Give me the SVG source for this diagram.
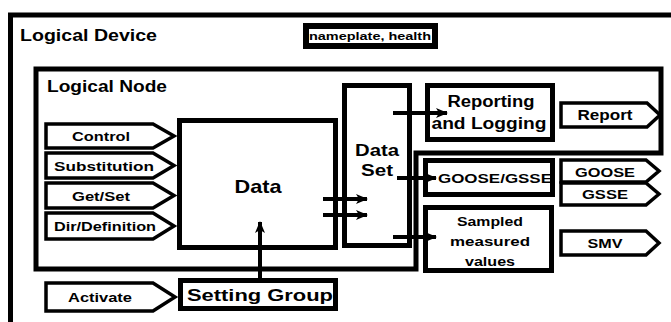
<svg xmlns="http://www.w3.org/2000/svg" width="671" height="322" viewBox="0 0 671 322">
<defs>
<style>
.box{fill:#fff;stroke:#000;stroke-width:5}
.frame{fill:none;stroke:#000;stroke-width:5}
.tag{fill:#fff;stroke:#000;stroke-width:3.5;stroke-linejoin:miter}
.t{font-family:"Liberation Sans",Arial,sans-serif;font-weight:bold;fill:#000;text-anchor:middle}
.lbl{font-family:"Liberation Sans",Arial,sans-serif;font-weight:bold;fill:#000}
.c{stroke:#000;stroke-width:4;fill:none}
</style>
<marker id="ah" viewBox="0 0 12 10" refX="11" refY="5" markerWidth="12" markerHeight="10" markerUnits="userSpaceOnUse" orient="auto">
<path d="M0,0 L12,5 L0,10 L3,5 z" fill="#000"/>
</marker>
</defs>
<rect width="671" height="322" fill="#fff"/>

<g id="logical-device">
<rect class="frame" x="10.5" y="15" width="720" height="400"/>
<text class="lbl" x="20" y="41" font-size="16" textLength="137" lengthAdjust="spacingAndGlyphs">Logical Device</text>
</g>

<g id="nameplate">
<rect x="306" y="26" width="129" height="20" fill="#fff" stroke="#000" stroke-width="6"/>
<text class="t" x="370" y="40" font-size="10" textLength="122" lengthAdjust="spacingAndGlyphs">nameplate, health</text>
</g>

<g id="logical-node">
<path class="frame" d="M36,69 H661 V153 H416 V269 H36 Z"/>
<text class="lbl" x="47" y="92" font-size="17" textLength="120" lengthAdjust="spacingAndGlyphs">Logical Node</text>
</g>

<g id="control">
<path class="tag" d="M46,124 H153 L174,136 L153,148 H46 Z"/>
<text class="t" x="101" y="141" font-size="13" textLength="58" lengthAdjust="spacingAndGlyphs">Control</text>
</g>
<g id="substitution">
<path class="tag" d="M46,153 H153 L174,165.5 L153,178 H46 Z"/>
<text class="t" x="104" y="170.5" font-size="13" textLength="100" lengthAdjust="spacingAndGlyphs">Substitution</text>
</g>
<g id="getset">
<path class="tag" d="M46,183 H153 L174,195.5 L153,208 H46 Z"/>
<text class="t" x="101" y="200.5" font-size="13" textLength="58" lengthAdjust="spacingAndGlyphs">Get/Set</text>
</g>
<g id="dirdefinition">
<path class="tag" d="M46,213 H153 L174,226 L153,239 H46 Z"/>
<text class="t" x="105" y="231" font-size="13" textLength="102" lengthAdjust="spacingAndGlyphs">Dir/Definition</text>
</g>

<g id="data">
<rect class="box" x="179.5" y="120.5" width="156" height="127"/>
<text class="t" x="258" y="193" font-size="19" textLength="47" lengthAdjust="spacingAndGlyphs">Data</text>
</g>

<g id="data-set">
<rect class="box" x="344.5" y="85.5" width="65" height="160"/>
<text class="t" x="377" y="156" font-size="17" textLength="44" lengthAdjust="spacingAndGlyphs">Data</text>
<text class="t" x="377" y="176" font-size="17" textLength="32" lengthAdjust="spacingAndGlyphs">Set</text>
</g>

<g id="reporting">
<rect class="box" x="427.5" y="85.5" width="125" height="54"/>
<text class="t" x="491" y="107" font-size="16" textLength="87" lengthAdjust="spacingAndGlyphs">Reporting</text>
<text class="t" x="489" y="129" font-size="16" textLength="115" lengthAdjust="spacingAndGlyphs">and Logging</text>
</g>

<g id="report">
<path class="tag" d="M561,103 H647 L660,115 L647,127 H561 Z"/>
<text class="t" x="605" y="120" font-size="14" textLength="55" lengthAdjust="spacingAndGlyphs">Report</text>
</g>

<g id="goose-gsse-block">
<rect class="box" x="425.5" y="160.5" width="127" height="34"/>
<text class="t" x="495" y="183" font-size="12" textLength="114" lengthAdjust="spacingAndGlyphs">GOOSE/GSSE</text>
</g>

<g id="goose">
<path class="tag" d="M561,160 H646 L659,171 L646,182 H561 Z"/>
<text class="t" x="605" y="177" font-size="12" textLength="60" lengthAdjust="spacingAndGlyphs">GOOSE</text>
</g>
<g id="gsse">
<path class="tag" d="M561,183 H646 L659,194 L646,205 H561 Z"/>
<text class="t" x="605" y="199" font-size="12" textLength="46" lengthAdjust="spacingAndGlyphs">GSSE</text>
</g>

<g id="sampled">
<rect class="box" x="425.5" y="207.5" width="126" height="63"/>
<text class="t" x="490" y="226" font-size="13" textLength="66" lengthAdjust="spacingAndGlyphs">Sampled</text>
<text class="t" x="490" y="246" font-size="13" textLength="80" lengthAdjust="spacingAndGlyphs">measured</text>
<text class="t" x="490" y="266" font-size="13" textLength="50" lengthAdjust="spacingAndGlyphs">values</text>
</g>

<g id="smv">
<path class="tag" d="M561,231 H646 L659,243 L646,255 H561 Z"/>
<text class="t" x="605" y="248" font-size="13" textLength="35" lengthAdjust="spacingAndGlyphs">SMV</text>
</g>

<g id="activate">
<path class="tag" d="M46,283 H153 L175,297 L153,311 H46 Z"/>
<text class="t" x="100" y="302" font-size="13" textLength="64" lengthAdjust="spacingAndGlyphs">Activate</text>
</g>

<g id="setting-group">
<rect class="box" x="180.5" y="280.5" width="155" height="28"/>
<text class="t" x="260" y="301" font-size="17" textLength="146" lengthAdjust="spacingAndGlyphs">Setting Group</text>
</g>

<g id="connectors">
<line class="c" x1="260" y1="279" x2="260" y2="222" marker-end="url(#ah)"/>
<line class="c" x1="323" y1="199" x2="367" y2="199" marker-end="url(#ah)"/>
<line class="c" x1="323" y1="215" x2="367" y2="215" marker-end="url(#ah)"/>
<line class="c" x1="393" y1="113" x2="447" y2="113" marker-end="url(#ah)"/>
<line class="c" x1="397" y1="178" x2="436" y2="178" marker-end="url(#ah)"/>
<line class="c" x1="393" y1="237" x2="436" y2="237" marker-end="url(#ah)"/>
</g>
</svg>
